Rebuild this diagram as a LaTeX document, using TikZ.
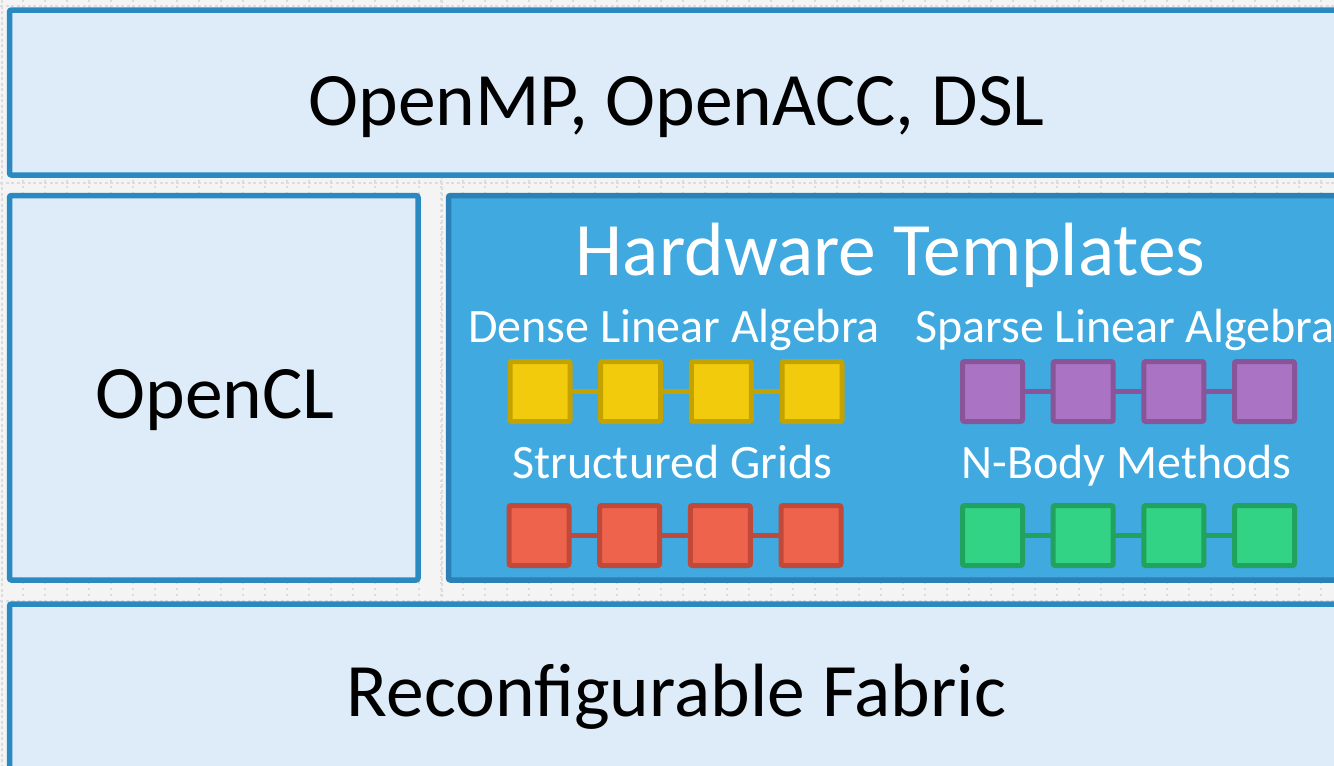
\documentclass[tikz,border=0pt]{standalone}
\usepackage{fontspec}
\setmainfont{Carlito}
\usetikzlibrary{positioning}

\definecolor{pagebg}{HTML}{F4F4F4}
\definecolor{gridgray}{HTML}{DCDCDC}
\definecolor{layerfill}{HTML}{DDECF8}
\definecolor{layerline}{HTML}{2A89C0}
\definecolor{hwfill}{HTML}{3FA9E0}
\definecolor{hwline}{HTML}{2B80B6}
\definecolor{yelfill}{HTML}{F2CC0C}
\definecolor{yelline}{HTML}{C4A200}
\definecolor{redfill}{HTML}{EE634C}
\definecolor{redline}{HTML}{C0493A}
\definecolor{purfill}{HTML}{AB73C4}
\definecolor{purline}{HTML}{8A5598}
\definecolor{grnfill}{HTML}{32D384}
\definecolor{grnline}{HTML}{21A35E}

\tikzset{
  layer/.style={draw=layerline, fill=layerfill, line width=5.5pt,
    rounded corners=2pt, anchor=north west, inner sep=0pt, outer sep=0pt},
  hwlayer/.style={layer, draw=hwline, fill=hwfill},
  bigtext/.style={anchor=base, inner sep=0pt, font=\fontsize{75.5}{80}\selectfont},
  subtext/.style={anchor=base, inner sep=0pt, text=white, font=\fontsize{48}{52}\selectfont},
  cell/.style={draw=#1line, fill=#1fill, line width=5pt, rounded corners=2pt,
    minimum size=60pt, inner sep=0pt, outer sep=0pt},
  link/.style={draw=#1line, line width=5pt},
}

\begin{document}
\begin{tikzpicture}[x=1pt, y=-1pt]
  \useasboundingbox (0,0) rectangle (1334,766);
  \clip (0,0) rectangle (1334,766);

  % dotted canvas
  \fill[pagebg] (0,0) rectangle (1334,766);
  \foreach \gx in {23,45,...,1334}
    \draw[gridgray, line width=2pt, dash pattern=on 2pt off 4pt] (\gx,0) -- (\gx,766);
  \foreach \gy in {6,183,601}
    \draw[gridgray, line width=2pt, dash pattern=on 3pt off 2.5pt] (0,\gy) -- (1334,\gy);
  \foreach \gx in {2,442}
    \draw[gridgray, line width=2pt, dash pattern=on 3pt off 2.5pt] (\gx,0) -- (\gx,766);

  % software and hardware layers
  \node[layer, minimum width=1390.5pt, minimum height=165pt] (top) at (9.5,10) {};
  \node[layer, minimum width=408.5pt, minimum height=384.5pt] (ocl) at (9.5,195.5) {};
  \node[hwlayer, minimum width=951.5pt, minimum height=384.5pt] (hw) at (448.5,195.5) {};
  \node[layer, minimum width=1390.5pt, minimum height=296pt] (fabric) at (9.5,604) {};

  \node[bigtext] (toptxt) at (676.5,125) {OpenMP, OpenACC, DSL};
  \node[bigtext] (ocltxt) at (215,418) {OpenCL};
  \node[bigtext, text=white] (hwtxt) at (890.5,275) {Hardware Templates};
  \node[bigtext] (fabtxt) at (676.5,716) {Reconfigurable Fabric};

  \node[subtext] (dla) at (674,342) {Dense Linear Algebra};
  \node[subtext] (sla) at (1125,342) {Sparse Linear Algebra};
  \node[subtext] (sg) at (672.5,478) {Structured Grids};
  \node[subtext] (nb) at (1126.5,478) {N-Body Methods};

  % template pipelines
  \foreach \i/\dx in {1/0,2/90.67,3/181.33,4/272} {
    \node[cell=yel] (y\i) at (540+\dx,391.5) {};
    \node[cell=red] (r\i) at (539+\dx,535.5) {};
    \node[cell=pur] (p\i) at (992.5+\dx,391.5) {};
    \node[cell=grn] (g\i) at (992.5+\dx,535.5) {};
  }
  \foreach \a/\b in {1/2,2/3,3/4} {
    \draw[link=yel] (y\a) -- (y\b);
    \draw[link=red] (r\a) -- (r\b);
    \draw[link=pur] (p\a) -- (p\b);
    \draw[link=grn] (g\a) -- (g\b);
  }
\end{tikzpicture}
\end{document}
